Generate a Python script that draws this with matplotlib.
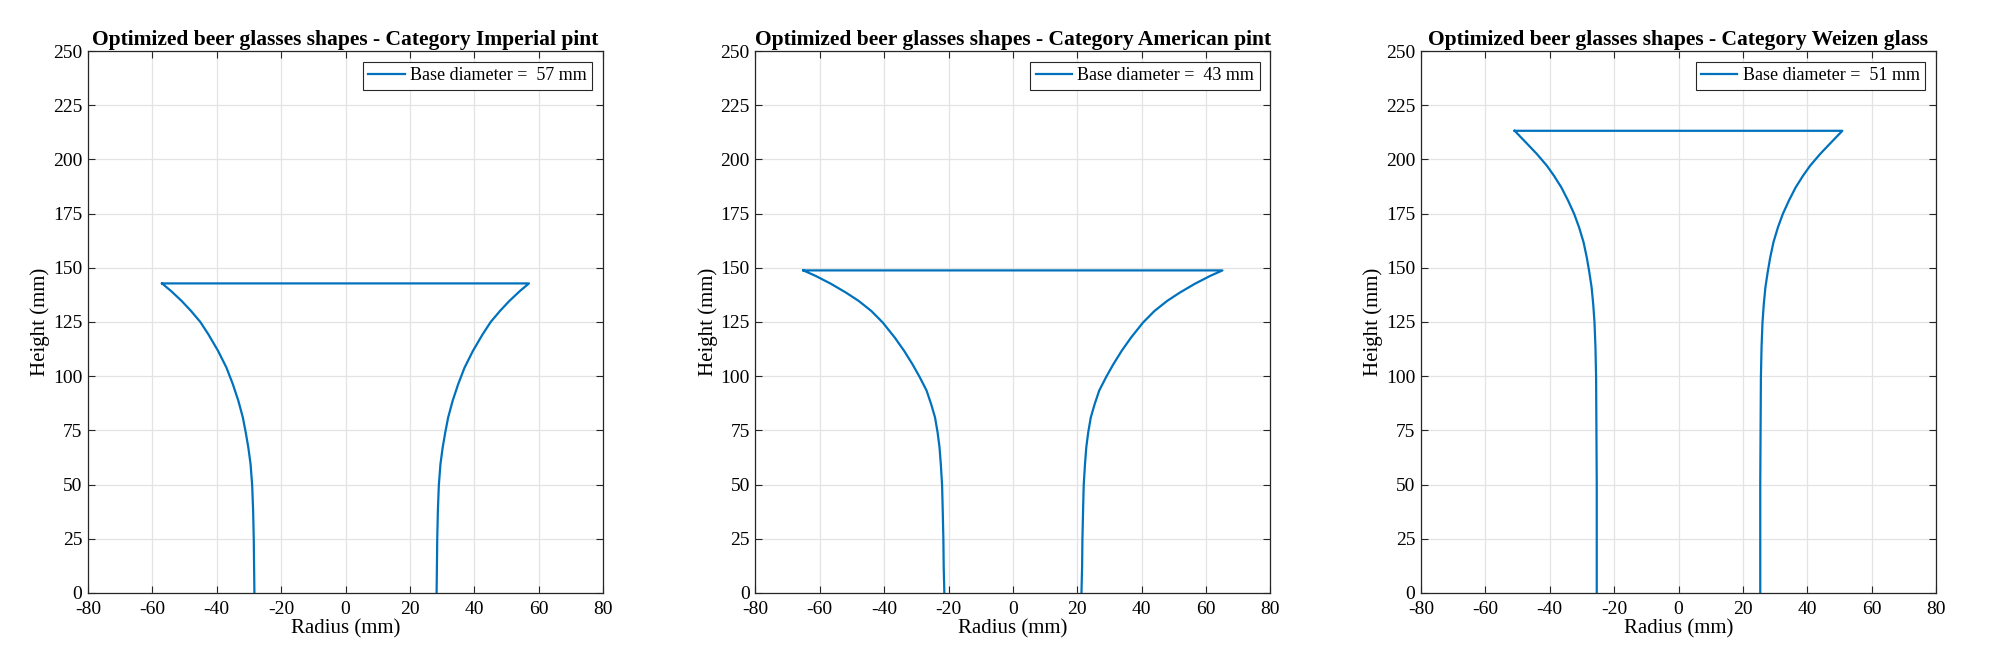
import numpy as np
import matplotlib
matplotlib.use('Agg')
import matplotlib.pyplot as plt

plt.rcParams['font.family'] = ['Liberation Serif', 'DejaVu Serif']
plt.rcParams['axes.unicode_minus'] = False

# Glass categories and base diameters (mm)
categories = ["Imperial pint", "American pint", "Weizen glass"]
base_diameters = [57, 43, 51]

# Right-hand profile of each glass: height (mm), radius (mm)
imperial_h = [0, 12, 24.8, 38, 49.8, 59.5, 67.2, 74.1, 81, 88.7, 96.3, 104,
              111.7, 119.3, 125, 130.1, 134.7, 139.3, 142.8]
imperial_r = [28.3, 28.4, 28.5, 28.7, 29.0, 29.5, 30.2, 31.0, 31.9, 33.3, 35.0,
              37.0, 39.6, 42.6, 45.1, 48.0, 50.9, 54.2, 57.0]

american_h = [0, 12, 24.8, 38, 49.8, 59.5, 67.2, 74.1, 81, 87.1, 93.3, 99.7,
              105.5, 111.7, 117.8, 124.7, 130.1, 134.7, 138.5, 142.6, 146.2, 148.8]
american_r = [21.3, 21.5, 21.6, 21.8, 22.0, 22.4, 22.8, 23.4, 24.2, 25.4, 26.8,
              29.0, 31.2, 33.8, 36.7, 40.4, 44.0, 47.9, 51.8, 56.5, 61.2, 65.1]

weizen_h = [0, 50.4, 75, 99.5, 113.4, 124.9, 133.3, 141, 147.9, 154.8, 161.8,
            168.7, 174.8, 181, 187.1, 192.5, 197.1, 202.5, 207.8, 213.2]
weizen_r = [25.4, 25.4, 25.5, 25.6, 25.8, 26.1, 26.5, 27.0, 27.7, 28.5, 29.5,
            30.9, 32.4, 34.3, 36.4, 38.7, 40.9, 44.0, 47.4, 50.9]

heights = [imperial_h, american_h, weizen_h]
radii = [imperial_r, american_r, weizen_r]

line_color = '#0072BD'
axis_color = '#262626'

fig = plt.figure(figsize=(20, 6.67), dpi=100)
lefts = [0.044, 0.3777, 0.7105]

for i in range(3):
    ax = fig.add_axes([lefts[i], 0.111, 0.2575, 0.8125])
    h = np.array(heights[i])
    r = np.array(radii[i])
    # left wall top-down, gap at the base, right wall bottom-up, then the rim across
    x = np.concatenate([-r[::-1], [np.nan], r, [-r[-1]]])
    y = np.concatenate([h[::-1], [np.nan], h, [h[-1]]])
    ax.plot(x, y, color=line_color, lw=1.6, solid_joinstyle='round',
            label=f"Base diameter =  {base_diameters[i]} mm")
    ax.set_xlim(-80, 80)
    ax.set_ylim(0, 250)
    ax.set_xticks(np.arange(-80, 81, 20))
    ax.set_yticks(np.arange(0, 251, 25))
    ax.grid(True, color='#e3e3e3', lw=0.9)
    ax.set_axisbelow(True)
    ax.tick_params(direction='in', top=True, right=True, labelsize=14,
                   color=axis_color, length=5, width=0.8)
    ax.tick_params(axis='x', pad=6)
    ax.tick_params(axis='y', pad=4)
    for s in ax.spines.values():
        s.set_color(axis_color)
        s.set_linewidth(0.9)
    ax.set_xlabel("Radius (mm)", fontsize=15, labelpad=1)
    ax.set_ylabel("Height (mm)", fontsize=15, labelpad=2)
    ax.set_title("Optimized beer glasses shapes - Category " + categories[i],
                 fontsize=15.5, fontweight='bold', pad=4)
    leg = ax.legend(loc='upper right', fontsize=13, fancybox=False,
                    framealpha=1, edgecolor=axis_color, borderpad=0.3,
                    handlelength=2.0, handletextpad=0.3, borderaxespad=0.6)
    leg.get_frame().set_linewidth(0.8)

fig.savefig("out.png", dpi=100)
